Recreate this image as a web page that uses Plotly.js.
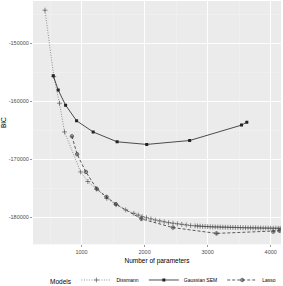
<!DOCTYPE html>
<html><head><meta charset="utf-8">
<script src="https://cdn.plot.ly/plotly-3.0.1.min.js"></script>
<style>html,body{margin:0;padding:0;background:#fff}#c{width:283px;height:286px}</style>
</head><body><div id="c"></div>
<script>
const dissmannX = [420,560,650,730,985,1100,1240,1400,1550,1700,1830,1900,1960,2030,2100,2170,2240,2310,2380,2450,2520,2590,2660,2730,2800,2840,2880,2920,2960,3000,3040,3080,3120,3160,3200,3240,3280,3320,3360,3400,3440,3480,3520,3560,3600,3640,3680,3720,3760,3800,3840,3880,3920,3960,4000,4040,4080,4120,4150];
const dissmannY = [-144240,-155700,-160300,-165250,-172150,-173800,-175100,-176700,-177800,-178700,-179300,-179600,-179850,-180050,-180250,-180450,-180600,-180750,-180900,-181000,-181100,-181200,-181300,-181400,-181450,-181480,-181510,-181540,-181560,-181580,-181600,-181620,-181640,-181650,-181660,-181680,-181690,-181700,-181710,-181720,-181730,-181740,-181750,-181760,-181770,-181780,-181790,-181800,-181800,-181810,-181820,-181830,-181830,-181840,-181850,-181850,-181860,-181870,-181880];
const semX = [551,630,747,921,1184,1564,2034,2714,3537,3621];
const semY = [-155540,-158030,-160630,-163320,-165250,-166950,-167400,-166730,-164070,-163560];
const lassoX = [847,930,1069,1240,1396,1543,1950,2450,3140,4040,4140];
const lassoY = [-166000,-169100,-172150,-175050,-176450,-177700,-180250,-181750,-182750,-182450,-182300];
const yTicks = [-150000,-160000,-170000,-180000];
const yTickText = ['-150000','-160000','-170000','-180000'];
const xTicks = [1000,2000,3000,4000];
const xTickText = ['1000','2000','3000','4000'];
const legendTitle = 'Models';

const traces = [
 {x:dissmannX,y:dissmannY,name:'Dissmann',mode:'lines+markers',
  line:{color:'#777',width:0.8,dash:'1px,1.5px'},
  marker:{symbol:'cross-thin-open',size:3.5,color:'#444',line:{color:'#444',width:0.6}}},
 {x:semX,y:semY,name:'Gaussian SEM',mode:'lines+markers',
  line:{color:'#222',width:0.8},
  marker:{symbol:'square',size:3,color:'#222'}},
 {x:lassoX,y:lassoY,name:'Lasso',mode:'lines+markers',
  line:{color:'#333',width:0.8,dash:'3px,2px'},
  marker:{symbol:'circle-cross-open',size:3.5,color:'#333',line:{color:'#333',width:0.6}}}
];
const tf = {family:'Liberation Sans, Arial',size:5.5,color:'#4d4d4d'};
const layout = {
 width:283,height:286,
 margin:{l:33,r:2,t:1,b:38},
 paper_bgcolor:'#fff',plot_bgcolor:'#ebebeb',
 showlegend:true,
 xaxis:{range:[230,4163],tickvals:xTicks,ticktext:xTickText,showline:false,zeroline:false,
   gridcolor:'#fff',gridwidth:0.9,ticks:'outside',ticklen:2,tickcolor:'#333',tickwidth:0.5,tickfont:tf,
   minor:{showgrid:true,gridcolor:'#f5f5f5',gridwidth:0.4,dtick:500,tick0:0,ticks:''},
   automargin:true,
   title:{text:'Number of parameters',standoff:5,font:{family:'Liberation Sans, Arial',size:6.5,color:'#000'}}},
 yaxis:{range:[-184640,-142660],tickvals:yTicks,ticktext:yTickText,showline:false,zeroline:false,
   gridcolor:'#fff',gridwidth:0.9,ticks:'outside',ticklen:2,tickcolor:'#333',tickwidth:0.5,tickfont:tf,
   minor:{showgrid:true,gridcolor:'#f5f5f5',gridwidth:0.4,dtick:5000,tick0:0,ticks:''},
   title:{text:'BIC',standoff:4,font:{family:'Liberation Sans, Arial',size:6.5,color:'#000'}}},
 legend:{orientation:'h',xref:'container',x:0.27,xanchor:'left',yref:'container',y:0.021,yanchor:'middle',
   font:{family:'Liberation Sans, Arial',size:5,color:'#000'},
   itemwidth:30,tracegroupgap:0,bgcolor:'rgba(0,0,0,0)'},
 annotations:[{text:legendTitle,xref:'paper',yref:'paper',x:0.165,y:-0.154,xanchor:'right',yanchor:'middle',
   showarrow:false,font:{family:'Liberation Sans, Arial',size:6.5,color:'#000'}}]
};
Plotly.newPlot('c',traces,layout,{displayModeBar:false,staticPlot:true});
</script></body></html>
